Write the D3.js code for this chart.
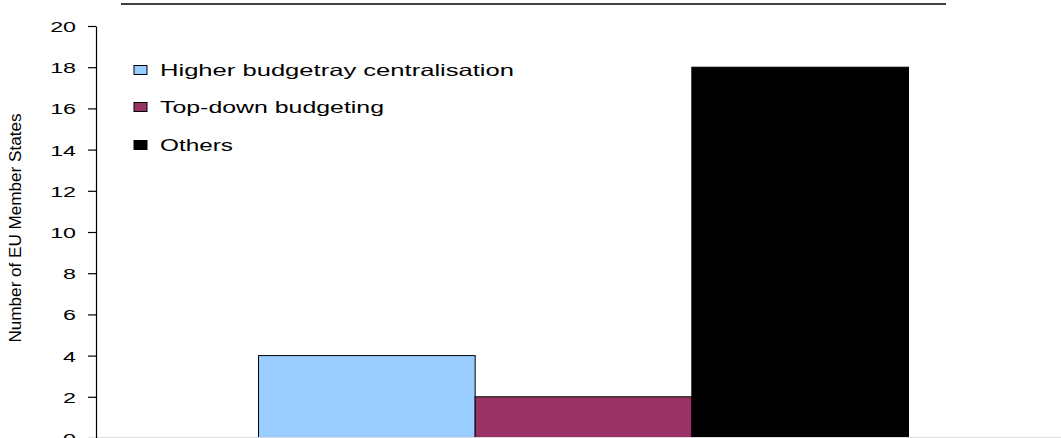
<!DOCTYPE html>
<html>
<head>
<meta charset="utf-8">
<script src="https://cdn.jsdelivr.net/npm/d3@7"></script>
<style>
  body { margin: 0; background: #fff; }
  text { font-family: "Liberation Sans", Arial, sans-serif; fill: #000; }
</style>
</head>
<body>
<svg id="chart" width="1061" height="438"></svg>
<script>
// data
const categories = [""];
const seriesNames = ["Higher budgetray centralisation", "Top-down budgeting", "Others"];
const seriesValues = [4, 2, 18];
const seriesColors = ["#99ccff", "#993366", "#000000"];
const yTicks = [0, 2, 4, 6, 8, 10, 12, 14, 16, 18, 20];
const yTitle = "Number of EU Member States";

const svg = d3.select("#chart");
const width = 1061, height = 438;
const margin = {left: 96, right: 1071, top: 26, bottom: 438};

// the picture is stretched sideways a bit, so text gets a scaleX
const sx = 1.5;

const y = d3.scaleLinear().domain([0, 20]).range([margin.bottom, margin.top]);

const x0 = d3.scaleBand()
  .domain(categories)
  .range([margin.left, margin.right])
  .paddingInner(0)
  .paddingOuter(0.25);

const x1 = d3.scaleBand()
  .domain(seriesNames)
  .range([0, x0.bandwidth()])
  .padding(0);

// plot area top border
svg.append("line")
  .attr("x1", 121).attr("x2", 946)
  .attr("y1", 4).attr("y2", 4)
  .attr("stroke", "#000")
  .attr("stroke-width", 1.5);

// bars
const rows = categories.map(c => seriesNames.map((s, i) => ({cat: c, name: s, value: seriesValues[i], color: seriesColors[i]})));
svg.append("g")
  .selectAll("g")
  .data(rows)
  .join("g")
  .attr("transform", (d, i) => `translate(${x0(categories[i])},0)`)
  .selectAll("rect")
  .data(d => d)
  .join("rect")
  .attr("x", d => x1(d.name))
  .attr("y", d => y(d.value))
  .attr("width", x1.bandwidth())
  .attr("height", d => y(0) - y(d.value))
  .attr("fill", d => d.color)
  .attr("stroke", "#000")
  .attr("stroke-width", 1);

// x baseline (mostly cut off at the bottom)
svg.append("line")
  .attr("x1", margin.left).attr("x2", width)
  .attr("y1", height - 0.5).attr("y2", height - 0.5)
  .attr("stroke", "#ddd");

// y axis
const yAxis = svg.append("g")
  .attr("transform", `translate(${margin.left},0)`)
  .call(d3.axisLeft(y).tickValues(yTicks).tickSize(8).tickSizeOuter(0));

yAxis.select(".domain").attr("stroke", "#000").attr("stroke-width", 1.2);
yAxis.selectAll(".tick line").attr("stroke", "#000").attr("stroke-width", 1.2);
yAxis.selectAll(".tick text")
  .attr("x", 0)
  .attr("dy", "0.36em")
  .attr("text-anchor", "end")
  .attr("font-size", 15.5)
  .attr("font-family", "Liberation Sans, Arial, sans-serif")
  .attr("transform", `translate(-20,0) scale(${sx},1)`);

// y title
svg.append("text")
  .attr("transform", `translate(21,228) scale(1.4,1) rotate(-90)`)
  .attr("text-anchor", "middle")
  .attr("font-size", 12)
  .attr("textLength", 229)
  .attr("lengthAdjust", "spacingAndGlyphs")
  .text(yTitle);

// legend
const legendY = [70, 107, 145];
const legendWidths = [354, 224, 73];
const legend = svg.append("g")
  .selectAll("g")
  .data(seriesNames)
  .join("g")
  .attr("transform", (d, i) => `translate(134,${legendY[i]})`);

legend.append("rect")
  .attr("x", 0).attr("y", -4.5)
  .attr("width", 13).attr("height", 9)
  .attr("fill", (d, i) => seriesColors[i])
  .attr("stroke", "#000")
  .attr("stroke-width", 1);

legend.append("text")
  .attr("x", 26)
  .attr("dy", "0.36em")
  .attr("font-size", 16.5)
  .attr("textLength", (d, i) => legendWidths[i])
  .attr("lengthAdjust", "spacingAndGlyphs")
  .text(d => d);
</script>
</body>
</html>
